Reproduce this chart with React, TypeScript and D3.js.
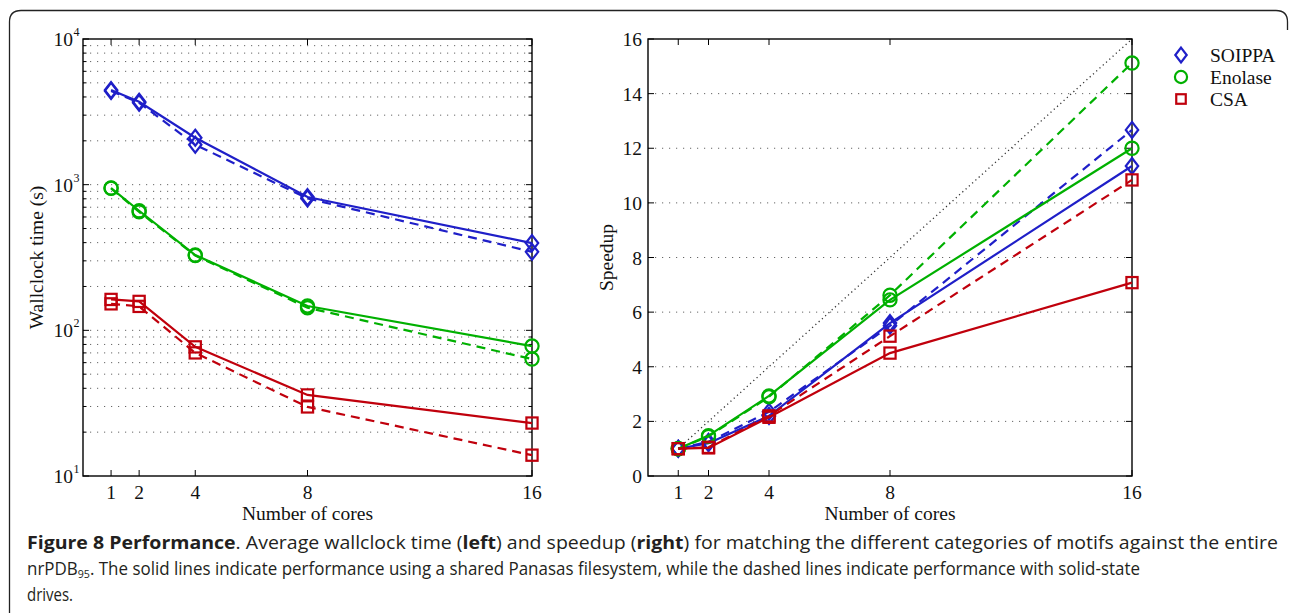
import React, { useRef, useEffect } from 'react';
import * as d3 from 'd3';

// number of cores on both x axes
const cores = [1, 2, 4, 8, 16];

// wallclock time (s): solid = shared Panasas filesystem, dashed = solid-state drives
const soippaTimeShared = [4460, 3710, 2100, 822, 397];
const soippaTimeSsd = [4400, 3650, 1880, 805, 346];
const enolaseTimeShared = [948, 662, 329, 147, 78];
const enolaseTimeSsd = [945, 650, 326, 143, 63.5];
const csaTimeShared = [163, 158, 77, 36, 23.1];
const csaTimeSsd = [152, 146, 70, 29.8, 13.9];

// speedup
const soippaSpeedShared = [1, 1.2, 2.2, 5.6, 11.35];
const soippaSpeedSsd = [1, 1.25, 2.35, 5.5, 12.67];
const enolaseSpeedShared = [1, 1.48, 2.93, 6.45, 12.0];
const enolaseSpeedSsd = [1, 1.45, 2.9, 6.62, 15.12];
const csaSpeedShared = [1, 1.03, 2.15, 4.5, 7.08];
const csaSpeedSsd = [1, 1.05, 2.2, 5.12, 10.84];
const idealCores = [1, 16];

const seriesNames = ['SOIPPA', 'Enolase', 'CSA'];
const seriesColors = ['#1f1fc8', '#00b000', '#c0000c'];
const seriesMarkers = ['diamond', 'circle', 'square'];

const timeTicks = [10, 100, 1000, 10000];
const speedTicks = [0, 2, 4, 6, 8, 10, 12, 14, 16];

const serif = '"Liberation Serif", "DejaVu Serif", serif';
const sans = '"Open Sans", "Noto Sans", sans-serif';
const fs = 19.5;

function marker(g: any, kind: string, cx: number, cy: number, color: string, s = 1) {
  if (kind === 'diamond') {
    g.append('path')
      .attr('d', `M${cx},${cy - 8 * s}L${cx + 6.2 * s},${cy}L${cx},${cy + 8 * s}L${cx - 6.2 * s},${cy}Z`)
      .attr('fill', 'none').attr('stroke', color).attr('stroke-width', 2.2);
  } else if (kind === 'circle') {
    g.append('circle').attr('cx', cx).attr('cy', cy).attr('r', 6.6 * s)
      .attr('fill', 'none').attr('stroke', color).attr('stroke-width', 2.2);
  } else {
    const h = 5.6 * s;
    g.append('rect').attr('x', cx - h).attr('y', cy - h).attr('width', 2 * h).attr('height', 2 * h)
      .attr('fill', 'none').attr('stroke', color).attr('stroke-width', 2.2);
  }
}

export default function App() {
  const ref = useRef<SVGSVGElement>(null);

  useEffect(() => {
    const svg = d3.select(ref.current);
    svg.selectAll('*').remove();

    // outer frame of the figure
    svg.append('path')
      .attr('d', 'M9.5,613 L9.5,22 Q9.5,10.5 21,10.5 L1276,10.5 Q1287.5,10.5 1287.5,22 L1287.5,30')
      .attr('fill', 'none').attr('stroke', '#222').attr('stroke-width', 1.3);

    const top = 39, bottom = 476;

    // ---------- left panel: wallclock time ----------
    const xL = d3.scaleLinear().domain([0, 16]).range([83, 532]);
    const yL = d3.scaleLog().domain([10, 10000]).range([bottom, top]);
    const left = svg.append('g');

    const minor: number[] = [];
    [10, 100, 1000].forEach(d => { for (let k = 1; k <= 9; k++) minor.push(k * d); });
    minor.push(10000);

    left.append('g').selectAll('line').data(minor.filter(v => v > 10 && v < 10000)).enter()
      .append('line')
      .attr('x1', xL(0)).attr('x2', xL(16))
      .attr('y1', d => yL(d)).attr('y2', d => yL(d))
      .attr('stroke', '#666').attr('stroke-width', 1).attr('stroke-dasharray', '1.2,5.8');

    // y ticks (inside, both sides)
    minor.forEach(v => {
      const major = timeTicks.includes(v);
      const len = major ? 6 : 3.5;
      left.append('line').attr('x1', xL(0)).attr('x2', xL(0) + len).attr('y1', yL(v)).attr('y2', yL(v)).attr('stroke', '#000');
      left.append('line').attr('x1', xL(16)).attr('x2', xL(16) - len).attr('y1', yL(v)).attr('y2', yL(v)).attr('stroke', '#000');
    });
    cores.forEach(c => {
      left.append('line').attr('x1', xL(c)).attr('x2', xL(c)).attr('y1', bottom).attr('y2', bottom - 6).attr('stroke', '#000');
      left.append('line').attr('x1', xL(c)).attr('x2', xL(c)).attr('y1', top).attr('y2', top + 6).attr('stroke', '#000');
    });

    left.append('rect').attr('x', xL(0)).attr('y', top).attr('width', xL(16) - xL(0)).attr('height', bottom - top)
      .attr('fill', 'none').attr('stroke', '#000').attr('stroke-width', 1.4);

    timeTicks.forEach(v => {
      left.append('text').attr('font-family', serif).attr('fill', '#111')
        .attr('x', 73).attr('y', yL(v) + 7).attr('text-anchor', 'end').attr('font-size', fs).text('10');
      left.append('text').attr('font-family', serif).attr('fill', '#111').attr('font-size', 12)
        .attr('x', 73.5).attr('y', yL(v) - 3).text(String(Math.round(Math.log10(v))));
    });
    cores.forEach(c => {
      left.append('text').attr('font-family', serif).attr('font-size', fs).attr('fill', '#111')
        .attr('x', xL(c)).attr('y', 499).attr('text-anchor', 'middle').text(String(c));
    });
    left.append('text').attr('font-family', serif).attr('font-size', fs).attr('fill', '#111')
      .attr('x', xL(8)).attr('y', 520).attr('text-anchor', 'middle').text('Number of cores');
    left.append('text').attr('font-family', serif).attr('font-size', fs).attr('fill', '#111')
      .attr('transform', `translate(43,${(top + bottom) / 2}) rotate(-90)`)
      .attr('text-anchor', 'middle').text('Wallclock time (s)');

    const timeShared = [soippaTimeShared, enolaseTimeShared, csaTimeShared];
    const timeSsd = [soippaTimeSsd, enolaseTimeSsd, csaTimeSsd];
    const lineL = d3.line<number>().x((d, i) => xL(cores[i])).y(d => yL(d));

    seriesNames.forEach((n, s) => {
      left.append('path').attr('d', lineL(timeSsd[s])).attr('fill', 'none')
        .attr('stroke', seriesColors[s]).attr('stroke-width', 2.2).attr('stroke-dasharray', '9,6');
      left.append('path').attr('d', lineL(timeShared[s])).attr('fill', 'none')
        .attr('stroke', seriesColors[s]).attr('stroke-width', 2.2);
      cores.forEach((c, i) => {
        marker(left, seriesMarkers[s], xL(c), yL(timeSsd[s][i]), seriesColors[s]);
        marker(left, seriesMarkers[s], xL(c), yL(timeShared[s][i]), seriesColors[s]);
      });
    });

    // ---------- right panel: speedup ----------
    const xR = d3.scaleLinear().domain([0, 16]).range([648, 1132]);
    const yR = d3.scaleLinear().domain([0, 16]).range([bottom, top]);
    const right = svg.append('g');

    right.append('g').selectAll('line').data(speedTicks.filter(v => v > 0 && v < 16)).enter()
      .append('line')
      .attr('x1', xR(0)).attr('x2', xR(16))
      .attr('y1', d => yR(d)).attr('y2', d => yR(d))
      .attr('stroke', '#666').attr('stroke-width', 1).attr('stroke-dasharray', '1.2,5.8');

    speedTicks.forEach(v => {
      right.append('line').attr('x1', xR(0)).attr('x2', xR(0) + 6).attr('y1', yR(v)).attr('y2', yR(v)).attr('stroke', '#000');
      right.append('line').attr('x1', xR(16)).attr('x2', xR(16) - 6).attr('y1', yR(v)).attr('y2', yR(v)).attr('stroke', '#000');
      right.append('text').attr('font-family', serif).attr('font-size', fs).attr('fill', '#111')
        .attr('x', 642).attr('y', yR(v) + 7).attr('text-anchor', 'end').text(String(v));
    });
    cores.forEach(c => {
      right.append('line').attr('x1', xR(c)).attr('x2', xR(c)).attr('y1', bottom).attr('y2', bottom - 6).attr('stroke', '#000');
      right.append('line').attr('x1', xR(c)).attr('x2', xR(c)).attr('y1', top).attr('y2', top + 6).attr('stroke', '#000');
      right.append('text').attr('font-family', serif).attr('font-size', fs).attr('fill', '#111')
        .attr('x', xR(c)).attr('y', 499).attr('text-anchor', 'middle').text(String(c));
    });

    right.append('rect').attr('x', xR(0)).attr('y', top).attr('width', xR(16) - xR(0)).attr('height', bottom - top)
      .attr('fill', 'none').attr('stroke', '#000').attr('stroke-width', 1.4);

    right.append('text').attr('font-family', serif).attr('font-size', fs).attr('fill', '#111')
      .attr('x', xR(8)).attr('y', 520).attr('text-anchor', 'middle').text('Number of cores');
    right.append('text').attr('font-family', serif).attr('font-size', fs).attr('fill', '#111')
      .attr('transform', `translate(613,${(top + bottom) / 2}) rotate(-90)`)
      .attr('text-anchor', 'middle').text('Speedup');

    // ideal speedup
    right.append('path')
      .attr('d', d3.line<number>().x(c => xR(c)).y(c => yR(c))(idealCores))
      .attr('fill', 'none').attr('stroke', '#333').attr('stroke-width', 1.3).attr('stroke-dasharray', '1.2,3.2');

    const speedShared = [soippaSpeedShared, enolaseSpeedShared, csaSpeedShared];
    const speedSsd = [soippaSpeedSsd, enolaseSpeedSsd, csaSpeedSsd];
    const lineR = d3.line<number>().x((d, i) => xR(cores[i])).y(d => yR(d));

    seriesNames.forEach((n, s) => {
      right.append('path').attr('d', lineR(speedSsd[s])).attr('fill', 'none')
        .attr('stroke', seriesColors[s]).attr('stroke-width', 2.2).attr('stroke-dasharray', '9,6');
      right.append('path').attr('d', lineR(speedShared[s])).attr('fill', 'none')
        .attr('stroke', seriesColors[s]).attr('stroke-width', 2.2);
      cores.forEach((c, i) => {
        marker(right, seriesMarkers[s], xR(c), yR(speedSsd[s][i]), seriesColors[s]);
        marker(right, seriesMarkers[s], xR(c), yR(speedShared[s][i]), seriesColors[s]);
      });
    });

    // legend
    seriesNames.forEach((n, s) => {
      const y = 55 + s * 22;
      marker(svg, seriesMarkers[s], 1181, y, seriesColors[s], s === 2 ? 0.85 : 0.92);
      svg.append('text').attr('font-family', serif).attr('font-size', fs).attr('fill', '#111')
        .attr('x', 1210).attr('y', y + 7).text(n);
    });

    // caption
    const cap = svg.append('g').attr('font-family', sans).attr('font-size', 17.5).attr('fill', '#231f20');
    const l1 = cap.append('text').attr('x', 27).attr('y', 549)
      .attr('textLength', 1251).attr('lengthAdjust', 'spacingAndGlyphs');
    l1.append('tspan').attr('font-weight', 'bold').text('Figure 8 Performance');
    l1.append('tspan').text('. Average wallclock time (');
    l1.append('tspan').attr('font-weight', 'bold').text('left');
    l1.append('tspan').text(') and speedup (');
    l1.append('tspan').attr('font-weight', 'bold').text('right');
    l1.append('tspan').text(') for matching the different categories of motifs against the entire');

    const l2 = cap.append('text').attr('x', 27).attr('y', 575)
      .attr('textLength', 1113).attr('lengthAdjust', 'spacingAndGlyphs');
    l2.append('tspan').text('nrPDB');
    l2.append('tspan').attr('font-size', 11).attr('dy', 3).text('95');
    l2.append('tspan').attr('dy', -3).text('. The solid lines indicate performance using a shared Panasas filesystem, while the dashed lines indicate performance with solid-state');

    cap.append('text').attr('x', 27).attr('y', 601)
      .attr('textLength', 46).attr('lengthAdjust', 'spacingAndGlyphs').text('drives.');
  }, []);

  return (
    <svg ref={ref} width={1290} height={613}
      style={{ position: 'absolute', left: 0, top: 0, background: '#fff' }} />
  );
}
